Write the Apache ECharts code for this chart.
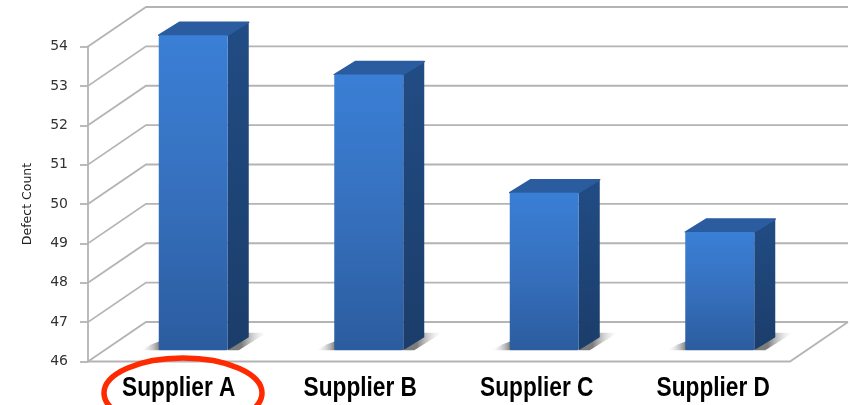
<!DOCTYPE html>
<html>
<head>
<meta charset="utf-8">
<style>html,body{margin:0;padding:0;background:#fff}#c{width:850px;height:405px}</style>
<script src="https://cdn.jsdelivr.net/npm/echarts@6/dist/echarts.min.js"></script>
</head>
<body>
<div id="c"></div>
<script>
const categories = ['Supplier A', 'Supplier B', 'Supplier C', 'Supplier D'];
const defectCounts = [54, 53, 50, 49];
const yTicks = [46, 47, 48, 49, 50, 51, 52, 53, 54];
const yName = 'Defect Count';
const labelShift = [3, 9, 10, 11];

const chart = echarts.init(document.getElementById('c'), null, {renderer: 'canvas'});
const DEPTH = [58, -39.5], BAR_OFF = [17.5, -11.3], BAR_D = [21, -13], BAR_W = 69;
const GRID = '#b4b4b4';
const base = yTicks[0];

function wall(params, api) {
  const v = api.value(1);
  const p = api.coord([0, v]);
  const band = api.size([1, 0])[0];
  const x0 = p[0] - band / 2, y = p[1];
  const x1 = x0 + band * categories.length;
  const style = {stroke: GRID, lineWidth: 1.8, fill: null};
  const kids = [
    {type: 'polyline', shape: {points: [[x0, y], [x0 + DEPTH[0], y + DEPTH[1]], [x1 + DEPTH[0], y + DEPTH[1]]]}, style}
  ];
  if (v === base) {
    kids.push({type: 'polyline', shape: {points: [[x0, y], [x1, y], [x1 + DEPTH[0], y + DEPTH[1]]]}, style});
  }
  return {type: 'group', children: kids};
}

function shadow(params, api) {
  const p = api.coord([api.value(0), base]);
  const cx = p[0] + BAR_OFF[0], y = p[1] + BAR_OFF[1];
  const l = cx - BAR_W / 2, r = cx + BAR_W / 2;
  const grad = (x1, x2) => new echarts.graphic.LinearGradient(x1, 0, x2, 0, [
    {offset: 0, color: 'rgba(110,110,110,0.9)'}, {offset: 1, color: 'rgba(225,225,225,0)'}]);
  return {type: 'group', children: [
    {type: 'polygon', shape: {points: [[r, y], [r + 19, y - 17.5], [r + 39, y - 17.5], [r + 11, y]]}, style: {fill: grad(0.35, 1)}},
    {type: 'polygon', shape: {points: [[l + 1, y], [l + 1, y - 9], [l - 7, y - 6], [l - 18, y]]}, style: {fill: grad(1, 0)}}
  ]};
}

function bar(params, api) {
  const i = api.value(0);
  const top = api.coord([i, api.value(1)]);
  const bot = api.coord([i, base]);
  const cx = top[0] + BAR_OFF[0];
  const yt = top[1] + BAR_OFF[1], yb = bot[1] + BAR_OFF[1];
  const l = cx - BAR_W / 2, r = cx + BAR_W / 2;
  const dx = BAR_D[0], dy = BAR_D[1];
  const front = new echarts.graphic.LinearGradient(0, 0, 0, 1, [
    {offset: 0, color: '#3a7fd6'}, {offset: 0.5, color: '#3670bd'}, {offset: 1, color: '#2b5c9f'}]);
  const side = new echarts.graphic.LinearGradient(0, 0, 0, 1, [
    {offset: 0, color: '#214c84'}, {offset: 1, color: '#1b3d6a'}]);
  return {type: 'group', children: [
    {type: 'polygon', shape: {points: [[r, yt], [r + dx, yt + dy], [r + dx, yb + dy], [r, yb]]}, style: {fill: side}},
    {type: 'polygon', shape: {points: [[l, yt], [l + dx, yt + dy], [r + dx, yt + dy], [r, yt]]}, style: {fill: '#2a5c9f', stroke: '#2a5c9f', lineWidth: 1.5, lineJoin: 'round'}},
    {type: 'rect', shape: {x: l, y: yt, width: BAR_W, height: yb - yt, r: 1.5}, style: {fill: front}}
  ]};
}

function catLabel(params, api) {
  const i = api.value(0);
  const p = api.coord([i, base]);
  return {
    type: 'text', x: p[0] + labelShift[i], y: p[1] + 27, scaleX: 0.84,
    style: {
      text: categories[i], fill: '#000', align: 'center', verticalAlign: 'middle',
      fontFamily: 'Liberation Sans', fontWeight: 'bold', fontSize: 27
    }
  };
}

chart.setOption({
  animation: false,
  grid: {left: 88, right: 60, top: 46.5, bottom: 43.5},
  xAxis: {
    type: 'category',
    data: categories,
    axisLine: {show: false},
    axisTick: {show: false},
    axisLabel: {show: false}
  },
  yAxis: {
    type: 'value', min: yTicks[0], max: yTicks[yTicks.length - 1], interval: 1,
    name: yName, nameLocation: 'middle', nameRotate: 90, nameGap: 54,
    nameTextStyle: {fontFamily: 'DejaVu Sans', fontSize: 12.5, color: '#222'},
    axisLine: {show: true, lineStyle: {color: GRID, width: 1.8}},
    axisTick: {show: true, length: 8, lineStyle: {color: GRID, width: 1.8}},
    axisLabel: {margin: 20, fontFamily: 'DejaVu Sans', fontSize: 14, color: '#333', padding: [2, 0, 0, 0]},
    splitLine: {show: false}
  },
  graphic: [{
    type: 'ellipse', z: 100,
    shape: {cx: 183, cy: 393, rx: 79, ry: 35},
    style: {fill: null, stroke: '#ff2a00', lineWidth: 5.5}
  }],
  series: [
    {type: 'custom', z: 1, clip: false, renderItem: wall, data: yTicks.map(v => [0, v])},
    {type: 'custom', z: 2, clip: false, renderItem: shadow, data: defectCounts.map((v, i) => [i, v])},
    {type: 'custom', z: 3, clip: false, renderItem: bar, data: defectCounts.map((v, i) => [i, v])},
    {type: 'custom', z: 4, clip: false, renderItem: catLabel, data: categories.map((c, i) => [i, base])}
  ]
});
</script>
</body>
</html>
